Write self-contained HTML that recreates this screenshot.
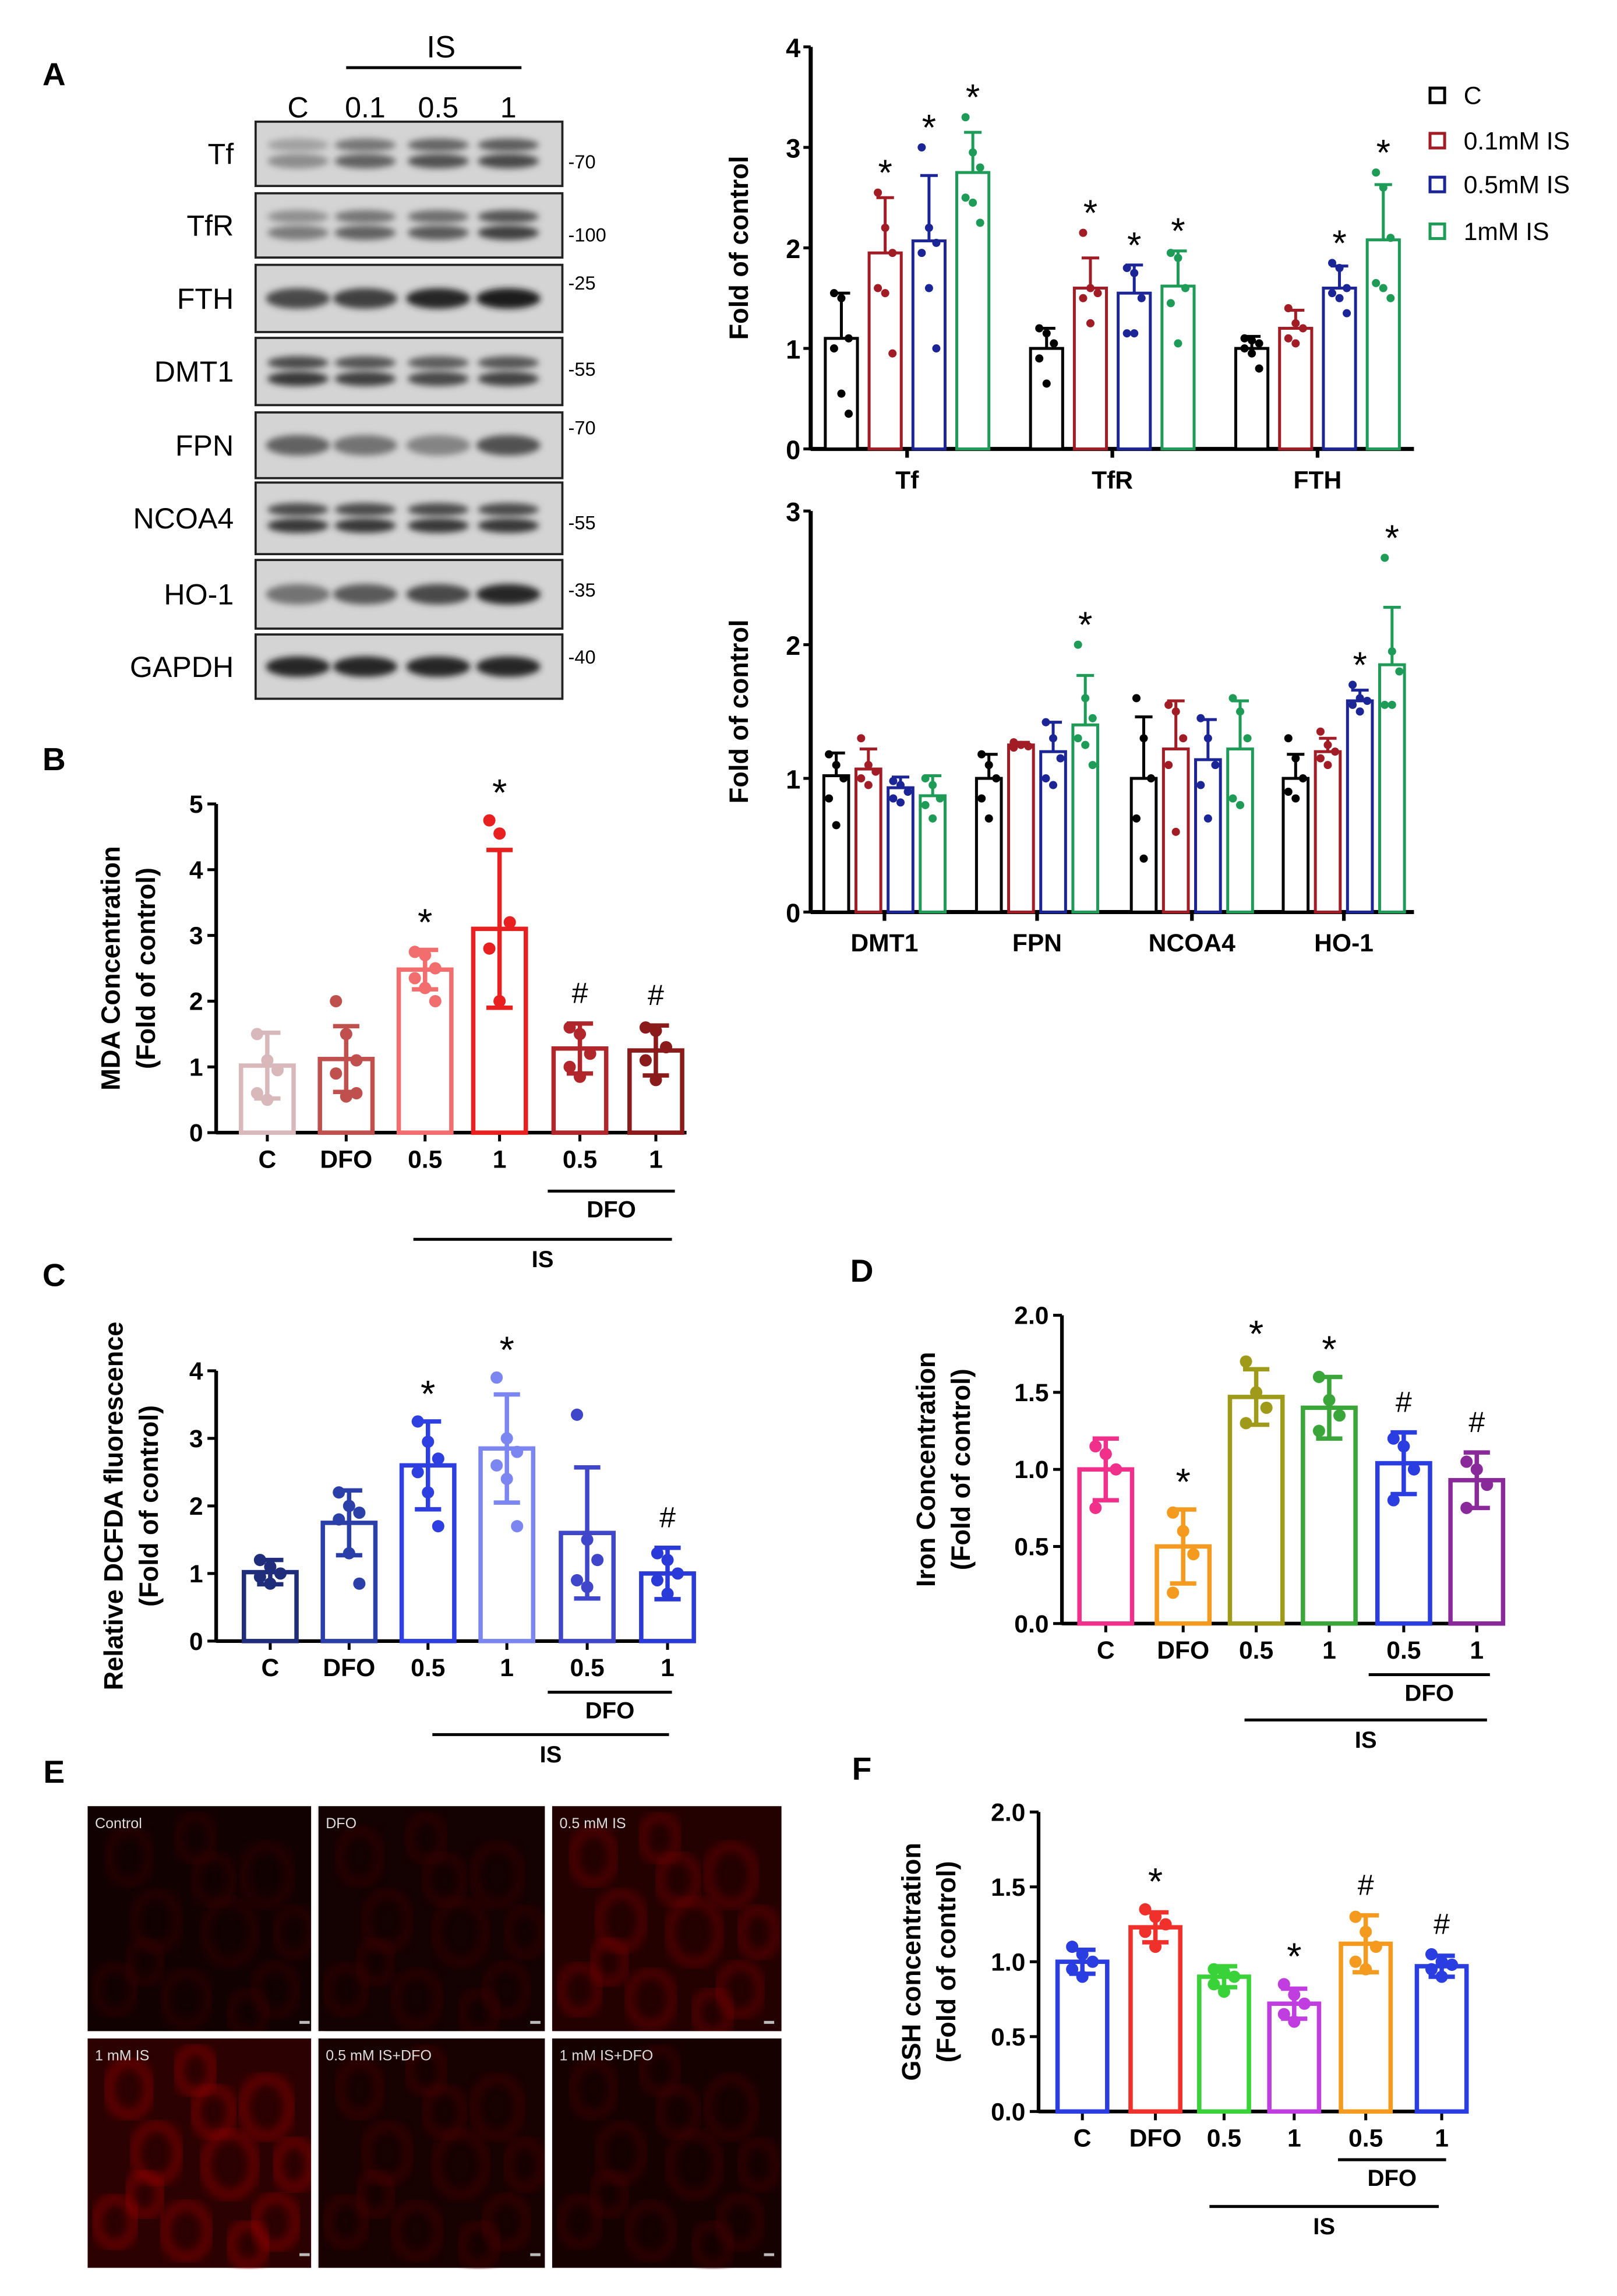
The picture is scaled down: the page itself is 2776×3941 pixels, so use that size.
<!DOCTYPE html>
<html><head><meta charset="utf-8">
<style>
html,body{margin:0;padding:0;background:#fff;}
svg{display:block;font-family:"Liberation Sans",Arial,sans-serif;}
</style></head>
<body>
<svg id="fig" width="2776" height="3941" viewBox="0 0 1107 1571" xmlns="http://www.w3.org/2000/svg">
<defs>
<filter id="blur1" x="-20%" y="-50%" width="140%" height="200%"><feGaussianBlur stdDeviation="2.2"/></filter>
<filter id="blur2"><feGaussianBlur stdDeviation="3.5"/></filter>
</defs>
<g id="root"></g>
</svg>
<script>
// ===== Panel A (top) data =====
const topGroups = ["Tf","TfR","FTH"];
const topMeans = [[1.1,1.95,2.07,2.75],[1.0,1.6,1.55,1.62],[1.0,1.2,1.6,2.08]];
const topErrs = [[0.45,0.55,0.65,0.4],[0.2,0.3,0.28,0.35],[0.12,0.18,0.22,0.55]];
const topPoints = [
 [[1.55,1.5,1.1,1.0,0.55,0.35],[2.55,2.2,1.95,1.6,1.55,0.95],[3.0,2.2,2.05,1.95,1.6,1.0],[3.3,2.95,2.8,2.5,2.45,2.25]],
 [[1.2,1.15,1.05,0.9,0.65],[2.15,1.6,1.55,1.5,1.25],[1.8,1.75,1.5,1.15,1.15],[1.95,1.9,1.6,1.45,1.05]],
 [[1.1,1.08,1.05,1.0,0.95,0.8],[1.4,1.25,1.2,1.1,1.05],[1.85,1.8,1.6,1.55,1.5,1.35],[2.75,2.6,2.1,1.65,1.6,1.5]]
];
const topStars = [[0,1,1,1],[0,1,1,1],[0,0,1,1]];
const topTicks = [0,1,2,3,4];
// ===== Panel A (bottom) data =====
const botGroups = ["DMT1","FPN","NCOA4","HO-1"];
const botMeans = [[1.02,1.07,0.93,0.87],[1.0,1.25,1.2,1.4],[1.0,1.22,1.14,1.22],[1.0,1.2,1.58,1.85]];
const botErrs = [[0.17,0.15,0.08,0.15],[0.18,0.02,0.22,0.37],[0.46,0.36,0.3,0.36],[0.18,0.1,0.08,0.43]];
const botPoints = [
 [[1.18,1.1,1.0,0.85,0.65],[1.3,1.1,1.05,1.0,0.95],[0.98,0.95,0.9,0.85,0.82],[1.0,0.95,0.85,0.8,0.7]],
 [[1.18,1.1,1.0,0.85,0.7],[1.27,1.25,1.24,1.23],[1.42,1.3,1.15,1.0,0.95],[2.0,1.6,1.45,1.3,1.25,1.1]],
 [[1.6,1.3,1.0,0.7,0.4],[1.55,1.5,1.3,1.1,0.6],[1.45,1.3,1.1,0.95,0.7],[1.6,1.5,1.3,0.85,0.8]],
 [[1.3,1.15,1.0,0.9,0.85],[1.35,1.25,1.2,1.15,1.1],[1.7,1.6,1.58,1.55,1.5],[2.65,1.95,1.8,1.55,1.55]]
];
const botStars = [[0,0,0,0],[0,0,0,1],[0,0,0,0],[0,0,1,1]];
const botTicks = [0,1,2,3];
const seriesNames = ["C","0.1mM IS","0.5mM IS","1mM IS"];
// ===== Panel B =====
const bLabels = ["C","DFO","0.5","1","0.5","1"];
const bMeans = [1.02,1.12,2.48,3.1,1.28,1.25];
const bErrs = [0.5,0.5,0.3,1.2,0.38,0.38];
const bPoints = [[1.5,1.1,0.95,0.6,0.5],[2.0,1.5,1.1,0.9,0.55,0.6],[2.75,2.7,2.5,2.35,2.2,2.0],[4.75,4.55,3.2,2.8,2.0],[1.6,1.5,1.2,1.0,0.85],[1.6,1.55,1.3,1.1,0.8]];
const bMarks = ["","","*","*","#","#"];
const bTicks = [0,1,2,3,4,5];
// ===== Panel C =====
const cLabels = ["C","DFO","0.5","1","0.5","1"];
const cMeans = [1.02,1.75,2.6,2.85,1.6,1.0];
const cErrs = [0.18,0.48,0.65,0.8,0.97,0.38];
const cPoints = [[1.2,1.1,1.0,0.95,0.85],[2.2,2.0,1.9,1.8,1.3,0.85],[3.25,2.95,2.7,2.5,2.2,1.7],[3.9,3.0,2.8,2.6,2.4,1.7],[3.35,1.5,1.2,0.9,0.8],[1.3,1.2,1.0,0.9,0.7]];
const cMarks = ["","","*","*","","#"];
const cTicks = [0,1,2,3,4];
// ===== Panel D =====
const dLabels = ["C","DFO","0.5","1","0.5","1"];
const dMeans = [1.0,0.5,1.47,1.4,1.04,0.93];
const dErrs = [0.2,0.24,0.18,0.2,0.2,0.18];
const dPoints = [[1.15,1.1,1.0,0.75],[0.72,0.6,0.45,0.2],[1.7,1.5,1.4,1.3],[1.6,1.45,1.35,1.25],[1.2,1.15,1.0,0.8],[1.05,1.0,0.9,0.75]];
const dMarks = ["","*","*","*","#","#"];
const dTicks = [0,0.5,1.0,1.5,2.0];
// ===== Panel F =====
const fLabels = ["C","DFO","0.5","1","0.5","1"];
const fMeans = [1.0,1.23,0.9,0.72,1.12,0.97];
const fErrs = [0.08,0.1,0.07,0.1,0.19,0.07];
const fPoints = [[1.1,1.05,1.0,0.95,0.9],[1.35,1.3,1.25,1.2,1.1],[0.95,0.93,0.9,0.85,0.8],[0.85,0.78,0.72,0.65,0.6],[1.3,1.2,1.1,1.0,0.95],[1.05,1.0,0.98,0.95,0.9]];
const fMarks = ["","*","","*","#","#"];
const fTicks = [0,0.5,1.0,1.5,2.0];

const NS="http://www.w3.org/2000/svg";
const root=document.getElementById('root');
function mk(tag,attrs,parent){const e=document.createElementNS(NS,tag);for(const k in attrs)e.setAttribute(k,attrs[k]);(parent||root).appendChild(e);return e;}
function txt(s,x,y,opt,parent){const e=mk('text',Object.assign({x:x,y:y,'font-size':14,'text-anchor':'middle',fill:'#000'},opt||{}),parent);e.textContent=s;return e;}

// ===== Panel labels =====
[["A",37,58],["B",37,527],["C",37,880],["D",590,877],["E",37,1220],["F",590,1218]].forEach(p=>{
 const t=txt(p[0],p[1],p[2],{'font-size':22,'font-weight':'bold'});
 
 
});

// ===== Western blot =====
const blot=mk('g',{});


txt("IS",302,39,{'font-size':21},blot);
mk('line',{x1:237,y1:46,x2:357,y2:46,stroke:'#000','stroke-width':2},blot);
const lanes=["C","0.1","0.5","1"], laneX=[204,250,300,348];
lanes.forEach((l,i)=>txt(l,laneX[i],80,{'font-size':20},blot));
const blotRows=[["Tf",83,127,"70",110,[0.35,0.6,0.7,0.75],2],["TfR",132,176,"100",160,[0.45,0.6,0.65,0.8],2],["FTH",181,227,"25",193,[0.75,0.8,0.95,1.0],1],["DMT1",231,277,"55",252,[0.85,0.8,0.75,0.78],2],["FPN",282,327,"70",292,[0.6,0.5,0.4,0.7],1],["NCOA4",330,379,"55",357,[0.85,0.85,0.85,0.85],2],["HO-1",383,430,"35",403,[0.5,0.65,0.75,0.95],1],["GAPDH",434,478,"40",449,[0.95,0.95,0.95,0.95],1]];
blotRows.forEach(r=>{
 const g=mk('g',{},blot);
 
 
 mk('rect',{x:175,y:r[1],width:210,height:r[2]-r[1],fill:'#d4d4d4',stroke:'#222','stroke-width':1.5},g);
 const cy=(r[1]+r[2])/2;
 r[5].forEach((v,i)=>{
  const c=Math.round(200-170*v);
  if(r[6]==2){
   mk('ellipse',{cx:laneX[i],cy:cy-6,rx:21,ry:4.5,fill:`rgb(${c+20},${c+20},${c+20})`,filter:'url(#blur1)'},g);
   mk('ellipse',{cx:laneX[i],cy:cy+5,rx:21,ry:5,fill:`rgb(${c},${c},${c})`,filter:'url(#blur1)'},g);
  } else {
   mk('ellipse',{cx:laneX[i],cy:cy,rx:22,ry:7,fill:`rgb(${c},${c},${c})`,filter:'url(#blur1)'},g);
  }
 });
 txt(r[0],160,cy+7,{'font-size':20,'text-anchor':'end'},g);
 txt("-"+r[3],389,r[4]+5,{'font-size':13,'text-anchor':'start'},g);
});

// ===== Grouped chart helper =====
const seriesCols=["#000","#a11c24","#1c2596","#1e9b57"];
function grouped(name,groups,means,errs,points,stars,ticks,y0,yPerUnit,xAxis0,xAxis1,centers,off,bw,titleX){
 const g=mk('g',{});
 
 
 const Y=v=>y0-v*yPerUnit;
 const ya=mk('line',{x1:xAxis0,y1:Y(ticks[ticks.length-1]),x2:xAxis0,y2:y0+1,stroke:'#000','stroke-width':2.8},g);
 
 const xa=mk('line',{x1:xAxis0,y1:y0,x2:xAxis1,y2:y0,stroke:'#000','stroke-width':2.8},g);
 
 ticks.forEach(t=>{mk('line',{x1:xAxis0-5,y1:Y(t),x2:xAxis0,y2:Y(t),stroke:'#000','stroke-width':2},g);
  const tl=txt(String(t),xAxis0-7,Y(t)+7,{'font-size':18,'font-weight':'bold','text-anchor':'end'},g);
  });
 const cyT=(Y(ticks[ticks.length-1])+y0)/2;
 const yt=txt("Fold of control",titleX,cyT,{'font-size':18,'font-weight':'bold',transform:`rotate(-90 ${titleX} ${cyT})`},g);
 
 groups.forEach((gn,gi)=>{
  const cx=centers[gi];
  mk('line',{x1:cx,y1:y0,x2:cx,y2:y0+6,stroke:'#000','stroke-width':2.5},g);
  const gl=txt(gn,cx,y0+27,{'font-size':17,'font-weight':'bold'},g);
  
  means[gi].forEach((m,si)=>{
   const x=cx+off[si], col=seriesCols[si];
   const bar=mk('rect',{x:x-bw/2,y:Y(m),width:bw,height:y0-Y(m),fill:'#fff',stroke:col,'stroke-width':2},g);
   
   
   const e=errs[gi][si];
   mk('line',{x1:x,y1:Y(m),x2:x,y2:Y(m+e),stroke:col,'stroke-width':2},g);
   mk('line',{x1:x-6,y1:Y(m+e),x2:x+6,y2:Y(m+e),stroke:col,'stroke-width':2},g);
   points[gi][si].forEach((p,pi)=>{mk('circle',{cx:x+((pi%3)-1)*5,cy:Y(p),r:2.8,fill:col},g);});
   if(stars[gi][si]){const top=Math.max(m+e,...points[gi][si]);const s=txt("*",x,Y(top)-5,{'font-size':25},g);
    }
  });
 });
 return g;
}
grouped('chart-a-top',topGroups,topMeans,topErrs,topPoints,topStars,topTicks,307,68.8,555,968,[621,761.5,902],[-45,-15,15,45],22,512);
grouped('chart-a-bottom',botGroups,botMeans,botErrs,botPoints,botStars,botTicks,624,91.5,555,968,[605.5,710,816,920],[-33,-11,11,33],17,512);

// legend
const leg=mk('g',{});


seriesNames.forEach((n,i)=>{
 const y=[65,96,126,158][i];
 const e=mk('g',{},leg);
 
 
 mk('rect',{x:979,y:y-5,width:10,height:10,fill:'#fff',stroke:seriesCols[i],'stroke-width':2},e);
 txt(n,1002,y+6,{'font-size':17,'text-anchor':'start'},e);
});

// ===== Simple bar chart helper =====
function simple(name,labels,means,errs,points,marks,ticks,cols,o){
 const g=mk('g',{});
 
 
 const tmax=ticks[ticks.length-1];
 const Y=v=>o.y0-v*(o.y0-o.yTop)/tmax;
 mk('line',{x1:o.ax,y1:o.yTop,x2:o.ax,y2:o.y0+1,stroke:'#000','stroke-width':2.5},g);
 mk('line',{x1:o.ax,y1:o.y0,x2:o.xEnd,y2:o.y0,stroke:'#000','stroke-width':2.5},g);
 ticks.forEach(t=>{mk('line',{x1:o.ax-6,y1:Y(t),x2:o.ax,y2:Y(t),stroke:'#000','stroke-width':2},g);
  const tl=txt(o.dec?t.toFixed(1):String(t),o.ax-9,Y(t)+6,{'font-size':17,'font-weight':'bold','text-anchor':'end'},g);
  });
 o.titles.forEach((t,i)=>{const cy=(o.yTop+o.y0)/2;const tx=o.titleX[i];
  const e=txt(t,tx,cy,{'font-size':18,'font-weight':'bold',transform:`rotate(-90 ${tx} ${cy})`},g);
  });
 labels.forEach((l,i)=>{
  const x=o.xs[i], col=cols[i], m=means[i], e=errs[i];
  mk('line',{x1:x,y1:o.y0,x2:x,y2:o.y0+6,stroke:'#000','stroke-width':2},g);
  const xl=txt(l,x,o.y0+24,{'font-size':17,'font-weight':'bold'},g);
  
  const bar=mk('rect',{x:x-o.bw/2,y:Y(m),width:o.bw,height:o.y0-Y(m),fill:'#fff',stroke:col,'stroke-width':3},g);
  
  
  mk('line',{x1:x,y1:Y(m-e),x2:x,y2:Y(m+e),stroke:col,'stroke-width':3},g);
  mk('line',{x1:x-9,y1:Y(m+e),x2:x+9,y2:Y(m+e),stroke:col,'stroke-width':3},g);
  mk('line',{x1:x-9,y1:Y(m-e),x2:x+9,y2:Y(m-e),stroke:col,'stroke-width':3},g);
  points[i].forEach((p,pi)=>mk('circle',{cx:x+((pi%3)-1)*7,cy:Y(p),r:4.2,fill:col},g));
  if(marks[i]){const top=Math.max(m+e,...points[i]);const s=txt(marks[i],x,Y(top)-(marks[i]=="*"?10:14),{'font-size':marks[i]=="*"?26:20},g);
   }
 });
 const d=mk('line',{x1:o.dfo[0],y1:o.dfo[2],x2:o.dfo[1],y2:o.dfo[2],stroke:'#000','stroke-width':2},g);
 
 txt("DFO",(o.dfo[0]+o.dfo[1])/2,o.dfo[2]+18,{'font-size':16,'font-weight':'bold'},g);
 mk('line',{x1:o.is[0],y1:o.is[2],x2:o.is[1],y2:o.is[2],stroke:'#000','stroke-width':2},g);
 txt("IS",(o.is[0]+o.is[1])/2,o.is[2]+19,{'font-size':16,'font-weight':'bold'},g);
}
simple('chart-b-mda',bLabels,bMeans,bErrs,bPoints,bMarks,bTicks,["#d9b8bb","#c0504d","#f26d6d","#e8201f","#b0262a","#8b1a1a"],
 {ax:148,y0:775,yTop:550,xEnd:470,xs:[183,237,291,342,397,449],bw:36,titles:["MDA Concentration","(Fold of control)"],titleX:[82,106],dfo:[375,462,815],is:[283,460,848]});
simple('chart-c-dcfda',cLabels,cMeans,cErrs,cPoints,cMarks,cTicks,["#1f2d7b","#2b3fa8","#2d3fe0","#7b86f0","#3f46c9","#2a3ad8"],
 {ax:148,y0:1123,yTop:938,xEnd:475,xs:[185,239,293,347,402,457],bw:36,titles:["Relative DCFDA fluorescence","(Fold of control)"],titleX:[84,108],dfo:[375,460,1158],is:[296,458,1187]});
simple('chart-d-iron',dLabels,dMeans,dErrs,dPoints,dMarks,dTicks,["#f0308a","#f39a1f","#a09a1a","#3aa63a","#2a3de0","#8a2a9a"],
 {ax:727,y0:1111,yTop:900,xEnd:1030,xs:[757,810,860,910,961,1011],bw:36,dec:true,titles:["Iron Concentration","(Fold of control)"],titleX:[640,664],dfo:[937,1020,1146],is:[852,1018,1177]});
simple('chart-f-gsh',fLabels,fMeans,fErrs,fPoints,fMarks,fTicks,["#2a3de0","#f0302a","#39d239","#c03ee0","#f39a1f","#2a3de0"],
 {ax:711,y0:1445,yTop:1240,xEnd:1000,xs:[741,791,838,886,935,987],bw:34,dec:true,titles:["GSH concentration","(Fold of control)"],titleX:[630,654],dfo:[916,990,1478],is:[828,985,1510]});

// ===== Panel E images =====
const imgs=[["Control",60,1236,0.15],["DFO",218,1236,0.2],["0.5 mM IS",378,1236,0.6],["1 mM IS",60,1395,0.85],["0.5 mM IS+DFO",218,1395,0.3],["1 mM IS+DFO",378,1395,0.25]];
const cellPos=[[0.18,0.22,14,18],[0.47,0.14,12,15],[0.78,0.3,16,20],[0.3,0.5,15,19],[0.62,0.55,17,21],[0.12,0.8,13,16],[0.43,0.84,15,18],[0.82,0.8,14,17],[0.9,0.55,12,16],[0.55,0.32,13,16],[0.25,0.68,11,14],[0.7,0.9,12,14]];
imgs.forEach(im=>{
 const g=mk('g',{});
 
 
 const w=157,h=157,b=im[3];
 mk('rect',{x:im[1],y:im[2],width:w,height:h,fill:`rgb(${Math.round(12+38*b)},1,1)`},g);
 const cg=mk('g',{'clip-path':''},g);
 cellPos.forEach(c=>{mk('ellipse',{cx:im[1]+c[0]*w,cy:im[2]+c[1]*h,rx:c[2],ry:c[3],fill:'none',stroke:`rgb(${Math.round(35+150*b)},6,5)`,'stroke-width':6,opacity:0.55,filter:'url(#blur2)'},cg);});
 mk('rect',{x:im[1]-3,y:im[2]-3,width:w+6,height:h+6,fill:'none',stroke:'#fff','stroke-width':4},g);
 txt(im[0],im[1]+5,im[2]+15,{'font-size':10,'text-anchor':'start',fill:'#ddd'},g);
 mk('rect',{x:im[1]+w-12,y:im[2]+h-10,width:7,height:2,fill:'#bbb'},g);
});
</script>
</body></html>
